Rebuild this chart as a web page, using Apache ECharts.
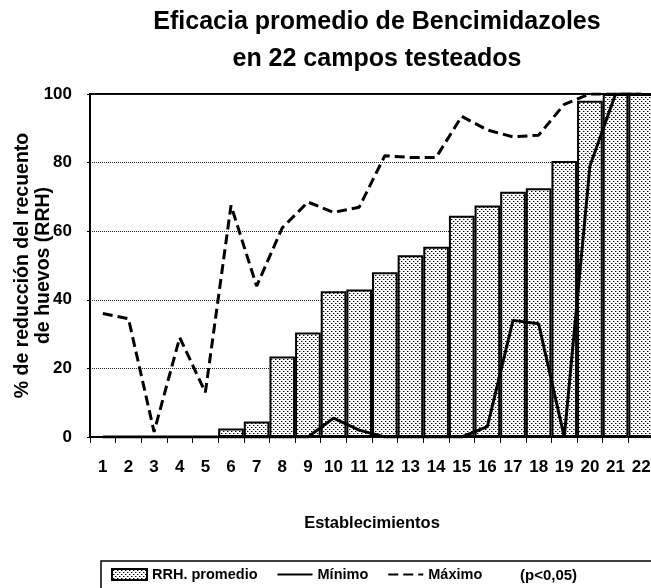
<!DOCTYPE html>
<html>
<head>
<meta charset="utf-8">
<script src="https://cdn.jsdelivr.net/npm/echarts@6/dist/echarts.min.js"></script>
<style>
html, body { margin: 0; padding: 0; background: #fff; }
#main { width: 651px; height: 588px; }
</style>
</head>
<body>
<div id="main"></div>
<script>
var establecimientos = ['1','2','3','4','5','6','7','8','9','10','11','12','13','14','15','16','17','18','19','20','21','22'];
var rrhPromedio = [0, 0, 0, 0, 0, 2.5, 4.5, 23.5, 30.5, 42.5, 43, 48, 53, 55.5, 64.5, 67.5, 71.5, 72.5, 80.5, 98, 100, 100];
var minimo = [0, 0, 0, 0, 0, 0, 0, 0, 0, 5.5, 2, 0, 0, 0, 0, 3, 34, 33, 0, 79, 100, 100];
var maximo = [36, 34.5, 1.5, 29, 13, 67.5, 44, 61, 68.5, 65.5, 67, 82, 81.5, 81.5, 93.5, 89.5, 87.5, 88, 97, 100, 100, 100];
var yTicks = [0, 20, 40, 60, 80, 100];

var font = '"Liberation Sans", Arial, sans-serif';

// trama de puntos para las barras
var tile = document.createElement('canvas');
tile.width = 4;
tile.height = 4;
var g = tile.getContext('2d');
g.fillStyle = '#fff';
g.fillRect(0, 0, 4, 4);
g.fillStyle = '#999';
g.fillRect(2, 1, 1, 1);
g.fillRect(0, 3, 1, 1);
g.fillStyle = '#000';
g.fillRect(1, 1, 1, 1);
g.fillRect(3, 3, 1, 1);
var dots = { image: tile, repeat: 'repeat' };

var myChart = echarts.init(document.getElementById('main'));

var hidden = { opacity: 0 };

var option = {
    backgroundColor: '#fff',
    animation: false,
    textStyle: { fontFamily: font, fontWeight: 'bold', color: '#000' },
    title: {
        text: 'Eficacia promedio de Bencimidazoles\nen 22 campos testeados',
        left: 372,
        textAlign: 'center',
        top: -1,
        textStyle: { fontFamily: font, fontSize: 25, fontWeight: 'bold', lineHeight: 37, color: '#000' }
    },
    grid: {
        left: 90,
        right: -3,
        top: 94,
        bottom: 151,
        outerBoundsMode: 'none',
        show: true,
        borderColor: '#000',
        borderWidth: 2
    },
    legend: {
        left: 106,
        top: 562,
        itemGap: 19,
        itemWidth: 35,
        itemHeight: 11,
        textStyle: { fontFamily: font, fontSize: 14.5, fontWeight: 'bold', color: '#000' },
        data: [
            { name: 'RRH. promedio', icon: 'rect' },
            { name: 'Mínimo', itemStyle: hidden },
            { name: 'Máximo', itemStyle: hidden }
        ]
    },
    xAxis: {
        type: 'category',
        data: establecimientos,
        name: 'Establecimientos',
        nameLocation: 'middle',
        nameGap: 78,
        nameMoveOverlap: false,
        nameTextStyle: { fontFamily: font, fontSize: 16.5, fontWeight: 'bold', color: '#000' },
        axisLine: { lineStyle: { color: '#000', width: 2 } },
        axisTick: { show: true, length: 6, lineStyle: { color: '#000' } },
        axisLabel: { margin: 22, fontFamily: font, fontSize: 17, fontWeight: 'bold', color: '#000' }
    },
    yAxis: {
        type: 'value',
        min: yTicks[0],
        max: yTicks[yTicks.length - 1],
        interval: 20,
        name: '% de reducción del recuento\nde huevos (RRH)',
        nameLocation: 'middle',
        nameRotate: 90,
        nameGap: 36,
        nameMoveOverlap: false,
        nameTextStyle: { fontFamily: font, fontSize: 19.5, fontWeight: 'bold', lineHeight: 21, color: '#000' },
        axisLine: { show: true, lineStyle: { color: '#000', width: 2 } },
        axisTick: { show: true, length: 3, lineStyle: { color: '#000' } },
        axisLabel: { margin: 18, fontFamily: font, fontSize: 17, fontWeight: 'bold', color: '#000' },
        splitLine: { show: true, lineStyle: { type: 'dotted', color: '#222', width: 1 } }
    },
    series: [
        {
            name: 'RRH. promedio',
            type: 'bar',
            data: rrhPromedio,
            barCategoryGap: '0%',
            itemStyle: { color: dots, borderColor: '#000', borderWidth: 2 },
            z: 2
        },
        {
            name: 'Mínimo',
            type: 'line',
            data: minimo,
            symbol: 'none',
            lineStyle: { color: '#000', width: 3 },
            itemStyle: { color: '#000' },
            z: 4
        },
        {
            name: 'Máximo',
            type: 'line',
            data: maximo,
            symbol: 'none',
            lineStyle: { color: '#000', width: 3, type: [10, 5] },
            itemStyle: { color: '#000' },
            z: 3
        }
    ],
    graphic: [
        {
            type: 'rect',
            shape: { x: 101, y: 561, width: 560, height: 30 },
            style: { fill: 'none', stroke: '#000', lineWidth: 1.5 },
            silent: true
        },
        {
            type: 'text',
            x: 520,
            y: 576,
            style: { text: '(p<0,05)', font: 'bold 15px ' + font, fill: '#000', verticalAlign: 'middle' }
        }
    ]
};

myChart.setOption(option);
</script>
</body>
</html>
